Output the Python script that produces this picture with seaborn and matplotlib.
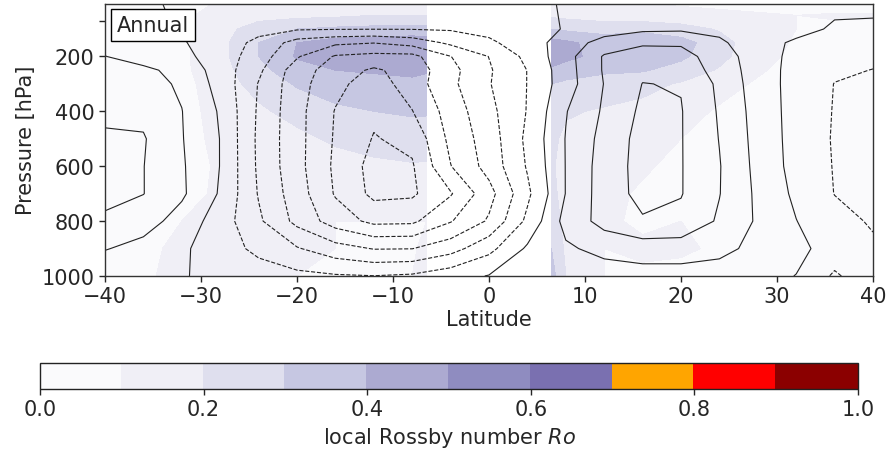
import numpy as np
import matplotlib
matplotlib.use("Agg")
import matplotlib.pyplot as plt
import seaborn as sns
from matplotlib.colors import ListedColormap, BoundaryNorm
from matplotlib.ticker import FixedLocator

sns.set_theme(style="ticks")
plt.rcParams['font.family'] = ['DejaVu Sans']

# ---------------- data ----------------
# mass streamfunction (in contour-interval units), rows = pressure levels
lat_psi = [-40, -36, -32, -28, -24, -20, -16, -12, -8, -4, 0, 4, 8, 12, 16, 20, 24, 28, 32, 36, 40]
p_psi = [7, 100, 150, 200, 250, 300, 400, 500, 600, 700, 800, 900, 1000]
psi_rows = [
    [0.3, 0.1, -0.1, -0.25, -0.4, -0.5, -0.55, -0.55, -0.5, -0.4, -0.3, -0.15, 0.05, 0.15, 0.2, 0.2, 0.2, 0.18, 0.15, 0.18, 0.2],
    [0.5, 0.2, -0.06, -0.4, -0.7, -0.9, -0.95, -0.97, -0.96, -0.9, -0.7, -0.3, 0.05, 0.5, 0.8, 0.85, 0.7, 0.5, 0.25, -0.1, -0.15],
    [0.7, 0.35, 0.08, -0.48, -1.24, -2.4, -2.8, -2.97, -2.6, -1.8, -1.18, -0.47, 0.45, 1.4, 1.85, 1.85, 1.2, 0.3, -0.12, -0.4, -0.6],
    [1.02, 0.6, 0.25, -0.45, -1.52, -2.9, -4.1, -4.3, -4.3, -3.02, -1.98, -0.74, 0.63, 2.1, 2.5, 2.4, 1.47, 0.51, -0.3, -0.55, -0.8],
    [1.3, 1.2, 0.7, -0.45, -1.81, -3.51, -4.5, -5.15, -4.6, -3.31, -2.11, -0.98, 0.57, 2.1, 2.8, 2.6, 1.63, 0.51, -0.35, -0.85, -1.02],
    [1.6, 1.35, 0.87, -0.35, -2.05, -3.6, -4.73, -5.5, -4.52, -3.23, -2.06, -0.98, 0.54, 2.03, 3.02, 2.95, 1.81, 0.5, -0.35, -1.02, -1.2],
    [1.85, 1.75, 1.02, -0.1, -2.14, -3.67, -5.05, -5.8, -5.03, -3.56, -2.29, -0.95, 0.95, 2.14, 3.2, 3.05, 1.9, 0.6, -0.38, -1.05, -1.3],
    [2.1, 2.08, 1.05, -0.02, -2.2, -3.67, -5.11, -6.06, -5.75, -3.74, -2.52, -0.78, 1.04, 2.33, 3.35, 3.05, 1.97, 0.66, -0.375, -1.08, -1.35],
    [2.6, 2.02, 1.11, -0.02, -2.17, -3.67, -5.19, -6.35, -6.1, -4.03, -2.63, -0.91, 1.03, 2.45, 3.35, 3.05, 2.05, 0.72, -0.35, -1.05, -1.4],
    [2.5, 2.02, 1.15, -0.1, -2.07, -3.52, -5.09, -6.25, -6.15, -5.09, -3.36, -1.21, 1.03, 2.47, 3.3, 3.05, 2.03, 0.81, -0.2, -1.02, -1.3],
    [1.7, 1.4, 0.62, -0.5, -1.83, -3.28, -4.48, -5.25, -5.2, -4.07, -2.87, -0.77, 1.34, 2.35, 2.9, 2.75, 1.87, 0.87, 0.02, -0.69, -1.1],
    [1.05, 0.7, 0.15, -0.5, -1.26, -1.92, -2.6, -3.05, -3.02, -2.4, -1.3, 0.15, 0.85, 1.3, 1.5, 1.5, 1.3, 0.7, 0.25, -0.4, -0.85],
    [0.3, 0.2, 0.05, -0.2, -0.5, -0.75, -0.9, -0.98, -0.85, -0.4, 0.05, 0.2, 0.3, 0.5, 0.6, 0.6, 0.5, 0.3, -0.02, -1.15, -0.3],
]
psi_levels = [-6, -5, -4, -3, -2, -1, 0, 1, 2, 3]

# local Rossby number, columns = latitudes (equatorial band masked)
p_ro = [7, 50, 100, 150, 200, 250, 300, 400, 500, 600, 700, 800, 900, 1000]
lat_ro_sh = [-40, -36, -32, -28, -24, -20, -16, -12, -8, -6.5]
ro_sh_cols = [
    [0.05, 0.05, 0.05, 0.05, 0.05, 0.05, 0.05, 0.05, 0.05, 0.05, 0.05, 0.05, 0.06, 0.06],
    [0.05, 0.05, 0.06, 0.06, 0.06, 0.06, 0.06, 0.06, 0.06, 0.06, 0.06, 0.07, 0.08, 0.09],
    [0.06, 0.08, 0.08, 0.08, 0.08, 0.08, 0.07, 0.07, 0.07, 0.07, 0.08, 0.10, 0.12, 0.12],
    [0.11, 0.14, 0.16, 0.17, 0.17, 0.16, 0.15, 0.13, 0.12, 0.11, 0.11, 0.13, 0.14, 0.13],
    [0.12, 0.16, 0.25, 0.30, 0.30, 0.27, 0.24, 0.18, 0.14, 0.12, 0.11, 0.12, 0.13, 0.12],
    [0.12, 0.17, 0.30, 0.40, 0.41, 0.36, 0.31, 0.24, 0.17, 0.13, 0.12, 0.11, 0.11, 0.10],
    [0.12, 0.18, 0.32, 0.44, 0.46, 0.40, 0.35, 0.28, 0.22, 0.15, 0.12, 0.10, 0.10, 0.10],
    [0.12, 0.20, 0.33, 0.45, 0.47, 0.41, 0.37, 0.30, 0.24, 0.18, 0.14, 0.10, 0.10, 0.09],
    [0.12, 0.20, 0.34, 0.46, 0.47, 0.42, 0.38, 0.31, 0.26, 0.19, 0.15, 0.10, 0.09, 0.10],
    [0.12, 0.20, 0.34, 0.45, 0.46, 0.41, 0.37, 0.31, 0.25, 0.19, 0.14, 0.10, 0.12, 0.14],
]
lat_ro_nh = [6.5, 8, 12, 16, 20, 24, 28, 32, 36, 40]
ro_nh_cols = [
    [0.12, 0.18, 0.30, 0.44, 0.46, 0.38, 0.30, 0.24, 0.22, 0.21, 0.22, 0.25, 0.30, 0.34],
    [0.12, 0.17, 0.28, 0.42, 0.43, 0.35, 0.28, 0.21, 0.18, 0.17, 0.17, 0.17, 0.18, 0.20],
    [0.10, 0.15, 0.26, 0.36, 0.36, 0.32, 0.25, 0.19, 0.16, 0.14, 0.12, 0.11, 0.10, 0.10],
    [0.10, 0.14, 0.27, 0.38, 0.37, 0.31, 0.23, 0.17, 0.13, 0.11, 0.09, 0.09, 0.11, 0.09],
    [0.09, 0.13, 0.24, 0.34, 0.32, 0.26, 0.19, 0.13, 0.10, 0.08, 0.08, 0.10, 0.11, 0.08],
    [0.08, 0.12, 0.19, 0.24, 0.23, 0.19, 0.13, 0.09, 0.07, 0.07, 0.07, 0.09, 0.09, 0.07],
    [0.07, 0.11, 0.14, 0.14, 0.13, 0.11, 0.09, 0.08, 0.07, 0.06, 0.06, 0.07, 0.06, 0.05],
    [0.06, 0.10, 0.10, 0.09, 0.08, 0.07, 0.06, 0.05, 0.05, 0.05, 0.05, 0.05, 0.05, 0.05],
    [0.05, 0.11, 0.08, 0.07, 0.06, 0.05, 0.05, 0.05, 0.05, 0.05, 0.05, 0.05, 0.05, 0.05],
    [0.05, 0.11, 0.08, 0.06, 0.05, 0.05, 0.05, 0.05, 0.05, 0.05, 0.05, 0.05, 0.05, 0.05],
]
ro_bounds = [0.0, 0.1, 0.2, 0.3, 0.4, 0.5, 0.6, 0.7, 0.8, 0.9, 1.0]
ro_colors = ['#fafafc', '#f0eff6', '#dfdfee', '#c6c7e2', '#acaad1',
             '#8f8cc0', '#7a70b0', '#ffa500', '#ff0000', '#8b0000']
ro_ticks = [0.0, 0.2, 0.4, 0.6, 0.8, 1.0]
panel_label = 'Annual'

# ---------------- figure ----------------
fig = plt.figure(figsize=(8.89, 4.52), dpi=100)
ax = fig.add_axes([105 / 889, 1 - 277 / 452, 768 / 889, 272.5 / 452])

lat_ro = lat_ro_sh + [0.0] + lat_ro_nh
nan_col = [np.nan] * len(p_ro)
ro_grid = np.column_stack(ro_sh_cols + [nan_col] + ro_nh_cols)

cmap = ListedColormap(ro_colors)
norm = BoundaryNorm(ro_bounds, cmap.N)
cf = ax.contourf(lat_ro, p_ro, ro_grid, levels=ro_bounds, cmap=cmap, norm=norm)

psi = np.array(psi_rows)
ax.contour(lat_psi, p_psi, psi, levels=psi_levels, colors='#222222',
           linewidths=0.8, negative_linestyles='dashed')

ax.set_xlim(-40, 40)
ax.set_ylim(1000, 7)
ax.set_xticks([-40, -30, -20, -10, 0, 10, 20, 30, 40])
ax.set_yticks([200, 400, 600, 800, 1000])
ax.yaxis.set_minor_locator(FixedLocator([70]))
ax.tick_params(axis='both', which='major', labelsize=15, length=4, width=1, direction='out')
ax.tick_params(axis='y', which='minor', length=4, width=1, direction='out')
ax.set_xlabel('Latitude', fontsize=15, labelpad=2)
ax.set_ylabel('Pressure [hPa]', fontsize=15, labelpad=4)
for s in ax.spines.values():
    s.set_visible(True)
    s.set_color('#333333')
    s.set_linewidth(1.0)

ax.text(0.0155, 0.958, panel_label, transform=ax.transAxes, fontsize=15,
        ha='left', va='top',
        bbox=dict(boxstyle='square,pad=0.3', fc='white', ec='black', lw=1.0))

cax = fig.add_axes([40 / 889, 1 - 390 / 452, 818 / 889, 26 / 452])
cb = fig.colorbar(cf, cax=cax, orientation='horizontal', ticks=ro_ticks)
cb.ax.minorticks_off()
if cb.solids is not None:
    cb.solids.set_edgecolor('face')
    cb.solids.set_linewidth(0.3)
cb.ax.set_xticklabels([f'{t:.1f}' for t in ro_ticks])
cb.ax.tick_params(labelsize=15, length=4, width=1, direction='out')
cb.set_label('local Rossby number $Ro$', fontsize=15, labelpad=4)
cb.outline.set_linewidth(1.0)
cb.outline.set_edgecolor('#222222')

fig.savefig('out.png', dpi=100)
